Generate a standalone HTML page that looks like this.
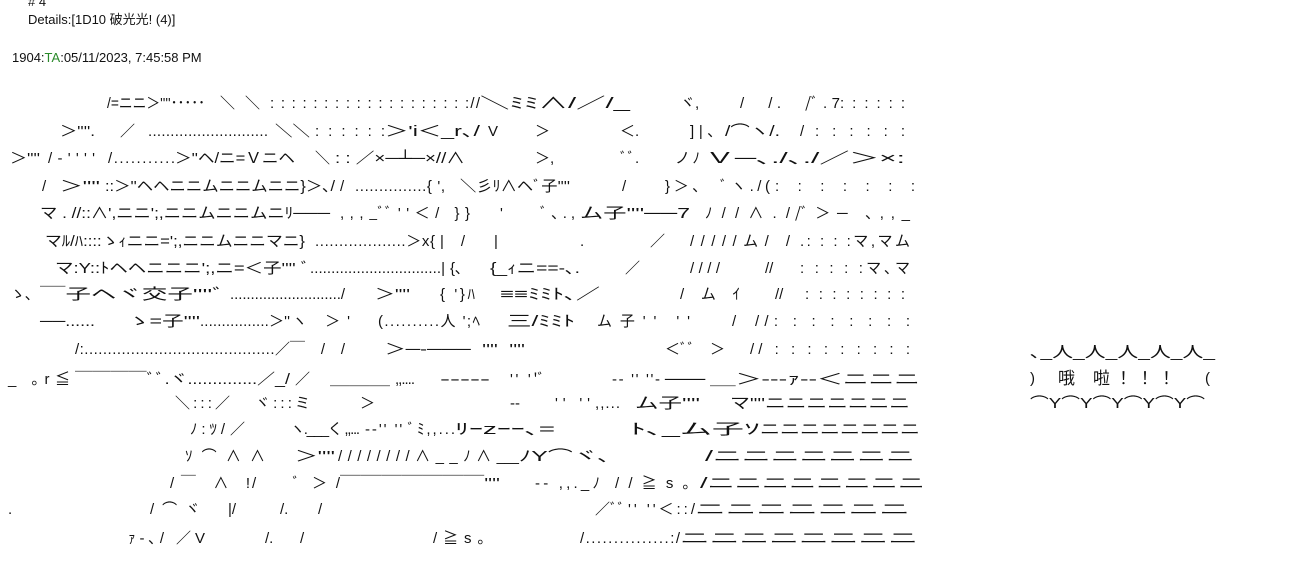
<!DOCTYPE html>
<html><head><meta charset="utf-8"><style>
html,body{margin:0;padding:0;background:#fff;}
svg{display:block}
text{font-family:"Liberation Sans","Noto Sans CJK JP",sans-serif;font-size:15px;fill:#111;white-space:pre}
.h{font-size:13px}
</style></head><body>
<svg width="1300" height="580" viewBox="0 0 1300 580" xmlns="http://www.w3.org/2000/svg">
<text class="h" x="28" y="6"># 4</text>
<text class="h" x="28" y="24">Details:[1D10 破光光! (4)]</text>
<text class="h" x="12" y="62">1904:<tspan style="fill:#2a8a2a">TA</tspan>:05/11/2023, 7:45:58 PM</text>
<g>
<!-- row1 -->
<text x="107" y="108" textLength="98" lengthAdjust="spacingAndGlyphs">/=ニニ＞''''･････</text>
<text x="220" y="108" textLength="40" lengthAdjust="spacing">＼　＼</text>
<text x="270" y="108" textLength="210" lengthAdjust="spacing">: : : : : : : : : : : : : : : : : : ://</text>
<text x="480" y="108" textLength="150" lengthAdjust="spacingAndGlyphs">＼ﾐﾐ∧/／/_</text>
<text x="680" y="108" lengthAdjust="spacing">ヾ,</text>
<text x="740" y="108" textLength="100" lengthAdjust="spacing">/　/.　/ﾞ.7</text>
<text x="840" y="108" textLength="65" lengthAdjust="spacing">: : : : : :</text>
<!-- row2 -->
<text x="60" y="136" textLength="35" lengthAdjust="spacingAndGlyphs">＞''''.</text>
<text x="120" y="136" lengthAdjust="spacing">／</text>
<text x="148" y="136" textLength="120" lengthAdjust="spacing">...........................</text>
<text x="275" y="136" textLength="35" lengthAdjust="spacingAndGlyphs">＼＼</text>
<text x="315" y="136" textLength="70" lengthAdjust="spacing">: : : : : :</text>
<text x="385" y="136" textLength="95" lengthAdjust="spacingAndGlyphs">＞'i＜_r､/</text>
<text x="488" y="136" lengthAdjust="spacing">V</text>
<text x="535" y="136" lengthAdjust="spacing">＞</text>
<text x="620" y="136" lengthAdjust="spacing">＜.</text>
<text x="690" y="136" textLength="25" lengthAdjust="spacing">]|､</text>
<text x="725" y="136" textLength="55" lengthAdjust="spacingAndGlyphs">/⌒ヽ/.</text>
<text x="800" y="136" lengthAdjust="spacing">/</text>
<text x="815" y="136" textLength="90" lengthAdjust="spacing">: : : : : :</text>
<!-- row3 -->
<text x="10" y="163" textLength="30" lengthAdjust="spacingAndGlyphs">＞''''</text>
<text x="48" y="163" textLength="47" lengthAdjust="spacing">/-''''</text>
<text x="108" y="163" textLength="67" lengthAdjust="spacing">/...........</text>
<text x="175" y="163" textLength="120" lengthAdjust="spacingAndGlyphs">＞''ヘ/ニ=Ｖニヘ</text>
<text x="315" y="163" lengthAdjust="spacing">＼</text>
<text x="335" y="163" textLength="130" lengthAdjust="spacingAndGlyphs">: : ／×─┴─×//∧</text>
<text x="535" y="163" lengthAdjust="spacing">＞,</text>
<text x="620" y="163" lengthAdjust="spacing">ﾞﾞ.</text>
<text x="675" y="163" textLength="25" lengthAdjust="spacing">ノﾉ</text>
<text x="705" y="163" textLength="200" lengthAdjust="spacingAndGlyphs">Ｖ─､./､./／＞×:</text>
<!-- row4 -->
<text x="42" y="191" lengthAdjust="spacing">/</text>
<text x="60" y="191" textLength="40" lengthAdjust="spacingAndGlyphs">＞''''</text>
<text x="105" y="191" textLength="230" lengthAdjust="spacingAndGlyphs">::＞''ヘヘニニムニニムニニ}＞､/</text>
<text x="340" y="191" lengthAdjust="spacing">/</text>
<text x="355" y="191" textLength="90" lengthAdjust="spacing">...............{ ',</text>
<text x="460" y="191" textLength="110" lengthAdjust="spacingAndGlyphs">＼彡ﾘ∧ヘﾞ子''''</text>
<text x="622" y="191" lengthAdjust="spacing">/</text>
<text x="665" y="191" textLength="35" lengthAdjust="spacing">}＞､</text>
<text x="720" y="191" textLength="50" lengthAdjust="spacing">ﾞヽ./(</text>
<text x="775" y="191" textLength="140" lengthAdjust="spacing">: : : : : : :</text>
<!-- row5 -->
<text x="40" y="218" textLength="290" lengthAdjust="spacingAndGlyphs">マ . //::∧',ニニ';,ニニムニニムニﾘ───</text>
<text x="340" y="218" textLength="130" lengthAdjust="spacing">,,,_ﾞﾞ''＜/ }}</text>
<text x="500" y="218" lengthAdjust="spacing">'</text>
<text x="540" y="218" textLength="35" lengthAdjust="spacing">ﾞ､.,</text>
<text x="580" y="218" textLength="110" lengthAdjust="spacingAndGlyphs">ム子''''──7</text>
<text x="705" y="218" textLength="85" lengthAdjust="spacing">ﾉ//∧./</text>
<text x="795" y="218" textLength="115" lengthAdjust="spacing">/ﾞ＞─ ､,,_</text>
<!-- row6 -->
<text x="45" y="246" textLength="260" lengthAdjust="spacingAndGlyphs">マﾙ/ﾊ::::ゝｨニニ=';,ニニムニニマニ}</text>
<text x="315" y="246" textLength="120" lengthAdjust="spacing">...................＞x{</text>
<text x="440" y="246" textLength="25" lengthAdjust="spacing">|/</text>
<text x="494" y="246" lengthAdjust="spacing">|</text>
<text x="580" y="246" lengthAdjust="spacing">.</text>
<text x="650" y="246" lengthAdjust="spacing">／</text>
<text x="690" y="246" textLength="100" lengthAdjust="spacing">/////ム/ /</text>
<text x="800" y="246" textLength="110" lengthAdjust="spacing">.: : : :マ,マム</text>
<!-- row7 -->
<text x="55" y="273" textLength="255" lengthAdjust="spacingAndGlyphs">マ:Y::ﾄヘヘニニニ';,ニ=＜子'''' ﾞ</text>
<text x="310" y="273" textLength="135" lengthAdjust="spacing">...............................|</text>
<text x="450" y="273" lengthAdjust="spacing">{､</text>
<text x="490" y="273" textLength="90" lengthAdjust="spacingAndGlyphs">{_ｨニ==-､.</text>
<text x="625" y="273" lengthAdjust="spacing">／</text>
<text x="690" y="273" textLength="30" lengthAdjust="spacing">////</text>
<text x="765" y="273" lengthAdjust="spacing">//</text>
<text x="800" y="273" textLength="110" lengthAdjust="spacing">: : : : :マ､マ</text>
<!-- row8 -->
<text x="10" y="299" lengthAdjust="spacing">ゝ､</text>
<text x="40" y="299" textLength="185" lengthAdjust="spacingAndGlyphs">￣子ヘヾ交子''''ﾞ</text>
<text x="230" y="299" textLength="115" lengthAdjust="spacing">.........................../</text>
<text x="375" y="299" textLength="35" lengthAdjust="spacingAndGlyphs">＞''''</text>
<text x="440" y="299" textLength="35" lengthAdjust="spacing">{ '}ﾊ</text>
<text x="500" y="299" textLength="100" lengthAdjust="spacingAndGlyphs">≡≡ﾐﾐﾄ､／</text>
<text x="680" y="299" textLength="60" lengthAdjust="spacing">/ムｲ</text>
<text x="775" y="299" lengthAdjust="spacing">//</text>
<text x="805" y="299" textLength="100" lengthAdjust="spacing">: : : : : : : :</text>
<!-- row9 -->
<text x="40" y="326" textLength="55" lengthAdjust="spacingAndGlyphs">──......</text>
<text x="128" y="326" textLength="72" lengthAdjust="spacingAndGlyphs">ゝ=子''''</text>
<text x="200" y="326" textLength="90" lengthAdjust="spacing">................＞''</text>
<text x="292" y="326" textLength="58" lengthAdjust="spacing">ヽ ＞'</text>
<text x="378" y="326" textLength="102" lengthAdjust="spacing">(..........人 ';ﾍ</text>
<text x="507" y="326" textLength="68" lengthAdjust="spacingAndGlyphs">三/ﾐﾐﾄ</text>
<text x="597" y="326" textLength="93" lengthAdjust="spacing">ム子'' ''</text>
<text x="732" y="326" lengthAdjust="spacing">/</text>
<text x="755" y="326" textLength="155" lengthAdjust="spacing">//: : : : : : : :</text>
<!-- row10 -->
<text x="75" y="354" textLength="215" lengthAdjust="spacing">/:.........................................／</text>
<text x="290" y="354" textLength="55" lengthAdjust="spacing">￣//</text>
<text x="385" y="354" textLength="140" lengthAdjust="spacingAndGlyphs">＞─‐───  ''''  ''''</text>
<text x="665" y="354" textLength="60" lengthAdjust="spacing">＜ﾞﾞ＞</text>
<text x="750" y="354" textLength="160" lengthAdjust="spacing">// : : : : : : : : :</text>
<!-- row11 -->
<text x="8" y="384" textLength="62" lengthAdjust="spacing">_ ｡r≦</text>
<text x="75" y="384" textLength="215" lengthAdjust="spacingAndGlyphs">￣￣￣￣ﾞﾞ.ヾ..............／_/</text>
<text x="295" y="384" lengthAdjust="spacing">／</text>
<text x="330" y="384" textLength="60" lengthAdjust="spacingAndGlyphs">＿＿＿</text>
<text x="395" y="384" textLength="20" lengthAdjust="spacing">,,....</text>
<text x="440" y="384" textLength="50" lengthAdjust="spacingAndGlyphs">---‐‐</text>
<text x="510" y="384" textLength="35" lengthAdjust="spacing">'' ''ﾞ</text>
<text x="612" y="384" textLength="48" lengthAdjust="spacing">‐- '' ''-</text>
<text x="665" y="384" textLength="40" lengthAdjust="spacingAndGlyphs">─</text>
<text x="710" y="384" textLength="210" lengthAdjust="spacingAndGlyphs">＿＞‐‐‐ｧ‐‐＜ニニニ</text>
<!-- row12 -->
<text x="175" y="408" textLength="55" lengthAdjust="spacing">＼:::／</text>
<text x="255" y="408" textLength="55" lengthAdjust="spacing">ヾ:::ミ</text>
<text x="360" y="408" lengthAdjust="spacing">＞</text>
<text x="510" y="408" lengthAdjust="spacing">‐-</text>
<text x="555" y="408" textLength="35" lengthAdjust="spacing">'' ''</text>
<text x="595" y="408" textLength="25" lengthAdjust="spacing">,,...</text>
<text x="635" y="408" textLength="65" lengthAdjust="spacingAndGlyphs">ム子''''</text>
<text x="730" y="408" textLength="35" lengthAdjust="spacingAndGlyphs">マ''''</text>
<text x="765" y="408" textLength="145" lengthAdjust="spacingAndGlyphs">ニニニニニニニ</text>
<!-- row13 -->
<text x="190" y="434" textLength="35" lengthAdjust="spacing">ﾉ:ﾂ/</text>
<text x="230" y="434" lengthAdjust="spacing">／</text>
<text x="290" y="434" textLength="70" lengthAdjust="spacing">ヽ.___く ,,...</text>
<text x="365" y="434" textLength="90" lengthAdjust="spacing">‐-'' '' ﾞﾐ,,...</text>
<text x="455" y="434" textLength="100" lengthAdjust="spacingAndGlyphs">ﾘｰzｰｰ､=</text>
<text x="630" y="434" textLength="130" lengthAdjust="spacingAndGlyphs">ﾄ､_ム子ｿ</text>
<text x="760" y="434" textLength="160" lengthAdjust="spacingAndGlyphs">ニニニニニニニニ</text>
<!-- row14 -->
<text x="185" y="461" textLength="80" lengthAdjust="spacing">ｿ⌒∧∧</text>
<text x="295" y="461" textLength="40" lengthAdjust="spacingAndGlyphs">＞''''</text>
<text x="338" y="461" textLength="167" lengthAdjust="spacing">////////∧__ﾉ∧_</text>
<text x="505" y="461" textLength="105" lengthAdjust="spacingAndGlyphs">_ﾉY⌒ヾ､</text>
<text x="705" y="461" textLength="210" lengthAdjust="spacingAndGlyphs">/ニニニニニニニ</text>
<!-- row15 -->
<text x="170" y="488" textLength="80" lengthAdjust="spacing">/￣ ∧ !</text>
<text x="252" y="488" textLength="48" lengthAdjust="spacing">/ ﾞ</text>
<text x="312" y="488" textLength="28" lengthAdjust="spacing">＞/</text>
<text x="340" y="488" textLength="160" lengthAdjust="spacingAndGlyphs">￣￣￣￣￣￣￣''''</text>
<text x="535" y="488" textLength="65" lengthAdjust="spacing">‐- ,,._ﾉ</text>
<text x="615" y="488" textLength="75" lengthAdjust="spacing">//≧s｡</text>
<text x="700" y="488" textLength="225" lengthAdjust="spacingAndGlyphs">/ニニニニニニニニ</text>
<!-- row16 -->
<text x="8" y="514" lengthAdjust="spacing">.</text>
<text x="150" y="514" textLength="50" lengthAdjust="spacing">/⌒ヾ</text>
<text x="228" y="514" lengthAdjust="spacing">|/</text>
<text x="280" y="514" lengthAdjust="spacing">/.</text>
<text x="318" y="514" lengthAdjust="spacing">/</text>
<text x="595" y="514" textLength="100" lengthAdjust="spacing">／ﾞﾞ'' ''＜::/</text>
<text x="695" y="514" textLength="215" lengthAdjust="spacingAndGlyphs">ニニニニニニニ</text>
<!-- row17 -->
<text x="128" y="543" textLength="77" lengthAdjust="spacing">ｧ-､/ ／V</text>
<text x="265" y="543" lengthAdjust="spacing">/.</text>
<text x="300" y="543" lengthAdjust="spacing">/</text>
<text x="433" y="543" textLength="52" lengthAdjust="spacing">/≧s｡</text>
<text x="580" y="543" textLength="100" lengthAdjust="spacing">/...............:/</text>
<text x="680" y="543" textLength="238" lengthAdjust="spacingAndGlyphs">ニニニニニニニニ</text>
<!-- bubble -->
<text x="1030" y="357" textLength="185" lengthAdjust="spacingAndGlyphs">､_人_人_人_人_人_</text>
<text x="1030" y="383" lengthAdjust="spacing">)</text>
<text x="1058" y="384" textLength="52" lengthAdjust="spacing" style="font-size:17px">哦啦</text>
<text x="1115" y="384" textLength="60" lengthAdjust="spacing" style="font-size:17px">！！！</text>
<text x="1205" y="383" lengthAdjust="spacing">(</text>
<text x="1030" y="408" textLength="175" lengthAdjust="spacingAndGlyphs">⌒Y⌒Y⌒Y⌒Y⌒Y⌒</text>
</g>
</svg>
</body></html>
